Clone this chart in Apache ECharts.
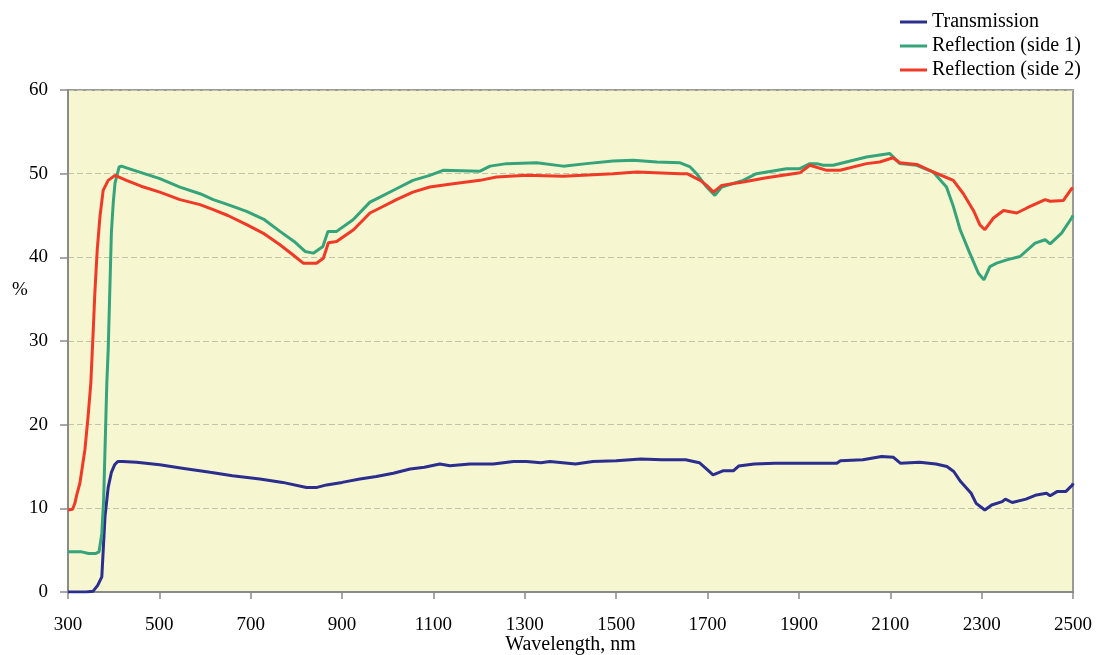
<!DOCTYPE html>
<html>
<head>
<meta charset="utf-8">
<script src="https://cdn.jsdelivr.net/npm/echarts@6/dist/echarts.min.js"></script>
<style>html,body{margin:0;padding:0;background:#fff}#c{width:1097px;height:655px}</style>
</head>
<body>
<div id="c"></div>
<script>
const xTicks = [300, 500, 700, 900, 1100, 1300, 1500, 1700, 1900, 2100, 2300, 2500];
const seriesNames = ['Transmission', 'Reflection (side 1)', 'Reflection (side 2)'];
const yAxisTitle = '%';
const xAxisTitle = 'Wavelength, nm';

const transmission = [[300,0],[340,0],[355,0.1],[365,0.8],[374,1.8],[381,9],[388,12.5],[395,14.3],[402,15.2],[409,15.6],[420,15.6],[450,15.5],[501,15.2],[550,14.8],[611,14.3],[660,13.9],[720,13.5],[770,13.1],[822,12.5],[845,12.5],[866,12.8],[900,13.1],[939,13.5],[975,13.8],[1012,14.2],[1049,14.7],[1080,14.9],[1114,15.3],[1136,15.1],[1180,15.3],[1231,15.3],[1275,15.6],[1304,15.6],[1335,15.45],[1355,15.6],[1411,15.3],[1449,15.6],[1500,15.7],[1554,15.9],[1600,15.8],[1652,15.8],[1682,15.45],[1700,14.6],[1712,14.0],[1735,14.5],[1757,14.5],[1768,15.05],[1802,15.3],[1847,15.4],[1900,15.4],[1983,15.4],[1991,15.7],[2040,15.8],[2081,16.2],[2107,16.1],[2122,15.4],[2164,15.5],[2200,15.3],[2224,15.0],[2239,14.4],[2254,13.2],[2277,11.8],[2288,10.6],[2307,9.8],[2322,10.4],[2345,10.8],[2352,11.1],[2367,10.7],[2397,11.1],[2420,11.6],[2442,11.8],[2450,11.5],[2465,12.0],[2484,12.0],[2499,12.8],[2500,13.0]];

const reflection1 = [[300,4.8],[330,4.8],[345,4.6],[360,4.6],[368,4.8],[374,7],[378,11],[381,17],[385,25],[388,29],[392,37],[395,43],[399,46.5],[403,48.9],[412,50.8],[417,50.9],[428,50.7],[450,50.3],[501,49.4],[545,48.4],[589,47.6],[618,46.9],[650,46.3],[691,45.5],[730,44.5],[764,43.1],[795,41.9],[819,40.7],[837,40.5],[858,41.3],[869,43.1],[888,43.1],[924,44.5],[961,46.6],[983,47.2],[1019,48.2],[1055,49.2],[1092,49.8],[1121,50.4],[1202,50.3],[1224,50.9],[1260,51.2],[1326,51.3],[1384,50.9],[1435,51.2],[1493,51.5],[1537,51.6],[1589,51.4],[1640,51.3],[1662,50.8],[1676,50.0],[1698,48.4],[1716,47.4],[1731,48.4],[1778,49.2],[1807,50.0],[1873,50.6],[1902,50.6],[1924,51.2],[1939,51.2],[1953,51.0],[1975,51.0],[2048,52.0],[2099,52.4],[2103,52.4],[2121,51.2],[2158,51.0],[2194,50.2],[2223,48.4],[2238,46.1],[2253,43.3],[2274,40.5],[2293,38.1],[2305,37.3],[2318,38.9],[2333,39.3],[2355,39.7],[2384,40.1],[2417,41.7],[2439,42.1],[2450,41.6],[2475,42.9],[2497,44.7],[2500,45.0]];

const reflection2 = [[300,9.8],[304,9.7],[310,9.9],[315,10.6],[320,11.8],[326,13],[337,17],[344,21],[350,25],[355,31],[359,36],[364,40.9],[370,44.9],[377,48],[388,49.2],[403,49.8],[428,49.2],[460,48.5],[501,47.8],[545,46.9],[589,46.3],[618,45.7],[650,45.0],[691,43.9],[730,42.8],[764,41.5],[790,40.4],[815,39.3],[844,39.3],[859,39.9],[870,41.75],[888,41.9],[925,43.3],[961,45.3],[983,45.9],[1019,46.9],[1055,47.8],[1092,48.4],[1143,48.8],[1202,49.2],[1238,49.6],[1304,49.8],[1384,49.7],[1493,50.0],[1545,50.2],[1640,50.0],[1655,50.0],[1684,49.2],[1698,48.6],[1713,47.8],[1731,48.6],[1778,49.0],[1829,49.5],[1902,50.1],[1924,51.0],[1961,50.4],[1990,50.4],[2048,51.2],[2077,51.4],[2106,51.9],[2121,51.3],[2158,51.1],[2194,50.2],[2238,49.2],[2260,47.6],[2282,45.6],[2296,43.9],[2307,43.3],[2326,44.7],[2348,45.6],[2377,45.3],[2399,45.9],[2439,46.9],[2450,46.7],[2479,46.8],[2497,48.2],[2500,48.3]];

const colors = ['#2B2E8E', '#35A47B', '#F03A27'];
const FONT = '"Liberation Serif", "Times New Roman", serif';

const chart = echarts.init(document.getElementById('c'), null, {renderer: 'canvas'});
function mk(name, data, color) {
  return {
    name: name, type: 'line', data: data, showSymbol: false, symbol: 'none',
    lineStyle: {color: color, width: 3}, itemStyle: {color: color}, animation: false, z: 3
  };
}
chart.setOption({
  animation: false,
  backgroundColor: '#ffffff',
  color: colors,
  legend: {
    orient: 'vertical', left: 895, top: 7, itemGap: 4,
    icon: 'rect', itemWidth: 27, itemHeight: 3,
    textStyle: {fontFamily: FONT, fontSize: 20, color: '#000', padding: [0,0,0,0]},
    data: seriesNames
  },
  graphic: [{
    type: 'text', left: 12, top: 281,
    style: {text: yAxisTitle, fontFamily: FONT, fontSize: 19, fill: '#000'}
  }],
  grid: {
    left: 68, right: 24, top: 90, bottom: 63,
    containLabel: false, outerBoundsMode: 'none',
    show: true, backgroundColor: '#F6F6D0', borderColor: '#9a9a9a', borderWidth: 2
  },
  xAxis: {
    type: 'value', min: 300, max: 2500,
    name: xAxisTitle, nameLocation: 'middle', nameGap: 43, nameMoveOverlap: false,
    nameTextStyle: {fontFamily: FONT, fontSize: 20, color: '#000'},
    axisLine: {show: true, lineStyle: {color: '#8a8a8a', width: 2}},
    axisTick: {show: true, length: 7, lineStyle: {color: '#8a8a8a', width: 1.5}, customValues: xTicks},
    axisLabel: {fontFamily: FONT, fontSize: 19, color: '#000', margin: 24, customValues: xTicks,
      formatter: function (v) { return String(v); }},
    splitLine: {show: false}
  },
  yAxis: {
    type: 'value', min: 0, max: 60, interval: 10,
    axisLine: {show: true, lineStyle: {color: '#8a8a8a', width: 2}},
    axisTick: {show: true, length: 8, lineStyle: {color: '#8a8a8a', width: 1.5}},
    axisLabel: {fontFamily: FONT, fontSize: 19, color: '#000', margin: 20},
    splitLine: {show: true, lineStyle: {color: '#c2c2a8', type: [6, 3], width: 1}}
  },
  series: [
    mk(seriesNames[0], transmission, colors[0]),
    mk(seriesNames[1], reflection1, colors[1]),
    mk(seriesNames[2], reflection2, colors[2])
  ]
});
</script>
</body>
</html>
